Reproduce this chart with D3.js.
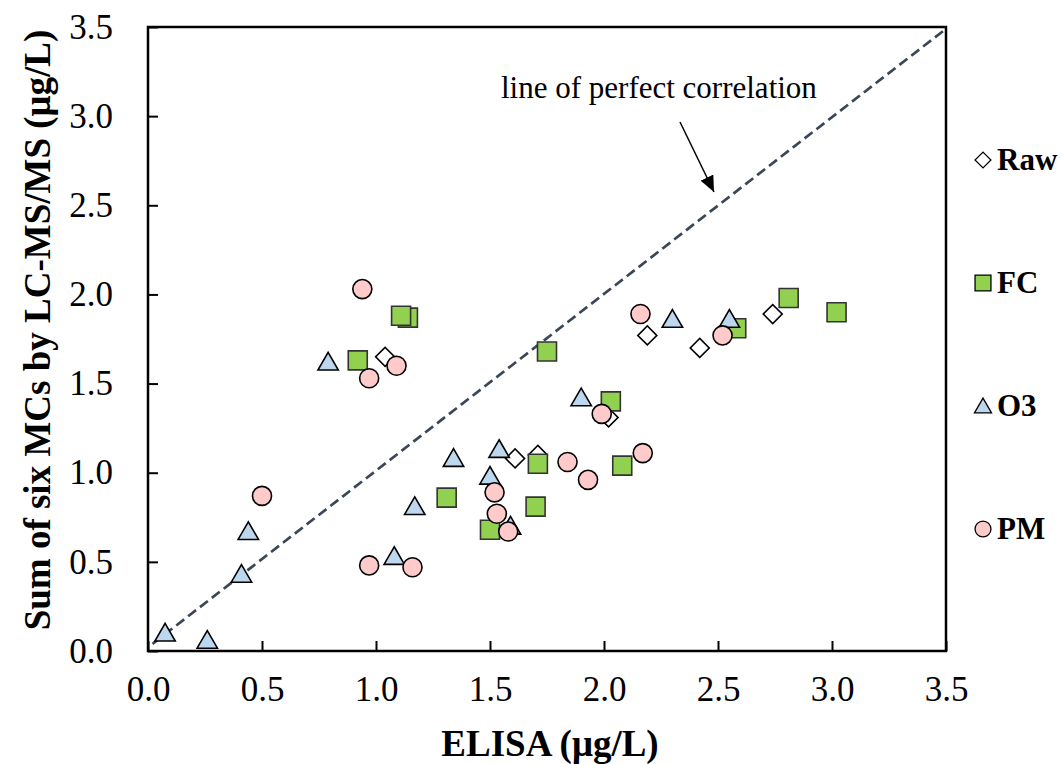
<!DOCTYPE html>
<html>
<head>
<meta charset="utf-8">
<script src="https://cdn.jsdelivr.net/npm/d3@7"></script>
<style>
  body { margin: 0; background: #fff; }
  text { font-family: "Liberation Serif", "Times New Roman", serif; }
</style>
</head>
<body>
<div id="chart"></div>
<script>
// data: [ELISA, LC-MS/MS]
var raw = [[1.04,1.65],[2.19,1.77],[2.42,1.70],[2.02,1.31],[1.61,1.08],[1.71,1.10],[2.74,1.89]];
var fc  = [[1.14,1.87],[1.11,1.88],[0.92,1.63],[1.75,1.68],[2.03,1.40],[1.71,1.05],[2.08,1.04],
           [1.31,0.86],[1.70,0.81],[1.50,0.68],[2.58,1.81],[2.81,1.98],[3.02,1.90]];
var o3  = [[0.075,0.10],[0.26,0.06],[0.41,0.43],[0.44,0.67],[0.79,1.62],[1.08,0.53],[1.17,0.81],
           [1.34,1.08],[1.50,0.98],[1.54,1.13],[1.59,0.70],[1.90,1.42],[2.30,1.86],[2.55,1.86]];
var pm  = [[0.94,2.03],[0.97,1.53],[1.09,1.60],[0.50,0.87],[0.97,0.48],[1.16,0.47],[1.52,0.89],
           [1.53,0.77],[1.58,0.67],[1.84,1.06],[1.93,0.96],[1.99,1.33],[2.17,1.11],[2.16,1.89],[2.52,1.77]];
var perfectLine = [[0.02,0.04],[3.49,3.48]];
var ticks = [0,0.5,1,1.5,2,2.5,3,3.5];
var legendNames = ["Raw","FC","O3","PM"];

var svg = d3.select("#chart").append("svg")
    .attr("width", 1062)
    .attr("height", 764);

var x = d3.scaleLinear().domain([0,3.5]).range([148,946]);
var y = d3.scaleLinear().domain([0,3.5]).range([651,27]);

// axes, ticks pointing inward
var gx = svg.append("g")
    .attr("transform", "translate(0,651)")
    .call(d3.axisBottom(x).tickValues(ticks).tickFormat(d3.format(".1f")).tickSize(-10).tickPadding(25));
var gy = svg.append("g")
    .attr("transform", "translate(148,0)")
    .call(d3.axisLeft(y).tickValues(ticks).tickFormat(d3.format(".1f")).tickSize(-10).tickPadding(35));
[gx, gy].forEach(function(g) {
  g.attr("font-family", "Liberation Serif, Times New Roman, serif");
  g.select(".domain").remove();
  g.selectAll("line").attr("stroke", "#000").attr("stroke-width", 2);
  g.selectAll("text").attr("font-size", 35).attr("fill", "#000");
});

// frame
svg.append("rect")
    .attr("x", x(0)).attr("y", y(3.5))
    .attr("width", x(3.5) - x(0)).attr("height", y(0) - y(3.5))
    .attr("fill", "none").attr("stroke", "#000").attr("stroke-width", 2.5);

// line of perfect correlation
svg.append("path")
    .attr("d", d3.line().x(function(d){ return x(d[0]); }).y(function(d){ return y(d[1]); })(perfectLine))
    .attr("fill", "none")
    .attr("stroke", "#3b4658")
    .attr("stroke-width", 2.7)
    .attr("stroke-dasharray", "10,5");

// markers
var sym = {
  Raw: { type: d3.symbolSquare, size: 180, fill: "#fff",    rot: 45 },
  FC:  { type: d3.symbolSquare, size: 361, fill: "#92d050", rot: 0 },
  O3:  { type: d3.symbolTriangle, size: 180, fill: "#bdd7ee", rot: 0 },
  PM:  { type: d3.symbolCircle, size: 285, fill: "#ffcaca", rot: 0 }
};
var series = [["Raw", raw], ["FC", fc], ["O3", o3], ["PM", pm]];

series.forEach(function(s) {
  var st = sym[s[0]];
  svg.append("g").selectAll("path")
    .data(s[1])
    .enter()
    .append("path")
      .attr("d", d3.symbol().type(st.type).size(st.size))
      .attr("transform", function(d) {
        var dy = st.type === d3.symbolTriangle ? 2 : 0;
        return "translate(" + x(d[0]) + "," + (y(d[1]) + dy) + ") rotate(" + st.rot + ")";
      })
      .attr("fill", st.fill)
      .attr("stroke", s[0] === "FC" ? "#333" : "#000")
      .attr("stroke-width", 1.6);
});

// legend
var legend = svg.append("g").attr("transform", "translate(983,160)");
legendNames.forEach(function(name, i) {
  var st = sym[name];
  var g = legend.append("g").attr("transform", "translate(0," + (i * 123) + ")");
  g.append("path")
    .attr("d", d3.symbol().type(st.type).size(st.size * 0.7))
    .attr("transform", "translate(0," + (name === "O3" ? 2 : 0) + ") rotate(" + st.rot + ")")
    .attr("fill", st.fill)
    .attr("stroke", "#000")
    .attr("stroke-width", 1.3);
  g.append("text")
    .attr("x", 14)
    .attr("y", 10)
    .attr("font-size", 31)
    .attr("font-weight", "bold")
    .text(name);
});

// annotation
svg.append("defs").append("marker")
    .attr("id", "arrow")
    .attr("viewBox", "0 0 10 10")
    .attr("refX", 10).attr("refY", 5)
    .attr("markerWidth", 16).attr("markerHeight", 14)
    .attr("markerUnits", "userSpaceOnUse")
    .attr("orient", "auto")
    .attr("preserveAspectRatio", "none")
  .append("path")
    .attr("d", "M0,0L10,5L0,10Z")
    .attr("fill", "#000");
svg.append("line")
    .attr("x1", 680).attr("y1", 122)
    .attr("x2", 714).attr("y2", 192)
    .attr("stroke", "#000")
    .attr("stroke-width", 1.5)
    .attr("marker-end", "url(#arrow)");
svg.append("text")
    .attr("x", 501).attr("y", 98)
    .attr("font-size", 31)
    .text("line of perfect correlation");

// axis titles
svg.append("text")
    .attr("x", 550).attr("y", 756)
    .attr("text-anchor", "middle")
    .attr("font-size", 37)
    .attr("font-weight", "bold")
    .text("ELISA (μg/L)");
svg.append("text")
    .attr("transform", "translate(50,330) rotate(-90)")
    .attr("text-anchor", "middle")
    .attr("font-size", 37)
    .attr("font-weight", "bold")
    .text("Sum of six MCs by LC-MS/MS (μg/L)");
</script>
</body>
</html>
